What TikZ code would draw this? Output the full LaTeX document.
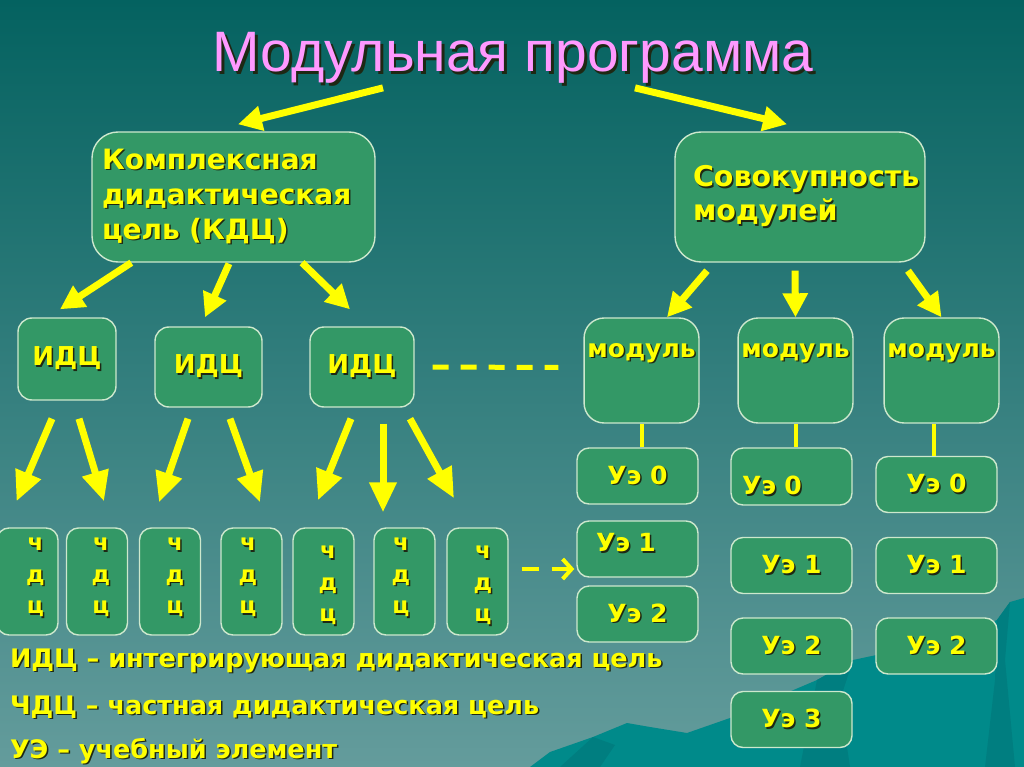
\documentclass[tikz,border=0pt]{standalone}
\usepackage{fontspec}
\setmainfont{DejaVu Sans}
\newfontfamily\titlefont{Liberation Sans}
\usetikzlibrary{arrows.meta,calc}

\definecolor{bgtop}{RGB}{4,98,96}
\definecolor{bgbot}{RGB}{100,156,156}
\definecolor{hill}{RGB}{0,138,138}
\definecolor{hilldark}{RGB}{0,126,128}
\definecolor{boxfill}{RGB}{51,152,102}
\definecolor{boxline}{RGB}{205,232,205}
\definecolor{ylw}{RGB}{255,255,0}
\definecolor{pinktitle}{RGB}{255,153,255}
\definecolor{shadow}{RGB}{30,40,20}

% text with a dark drop shadow
\newcommand\sh[2][1.5pt]{\mbox{\rlap{\kern#1\raisebox{-#1}{\textcolor{shadow}{#2}}}#2}}

\begin{document}
\begin{tikzpicture}[x=1pt,y=-1pt,
        every node/.style={text=ylw},
        box/.style={draw=boxline,line width=1.4pt,fill=boxfill,rounded corners=#1},
        box/.default=12pt,
        idcbox/.style={box=14pt,font=\bfseries\fontsize{26}{32}\selectfont},
        modbox/.style={box=20pt,minimum width=113pt,inner ysep=0pt,text height=39pt,text depth=66pt,
            font=\bfseries\fontsize{25}{30}\selectfont},
        uebox/.style={box=12pt,minimum width=121pt,minimum height=56pt,font=\bfseries\fontsize{25}{30}\selectfont},
        cbox/.style={box=12pt,minimum width=61pt,minimum height=107pt},
        cletters/.style={align=center,font=\bfseries\fontsize{23}{31.5}\selectfont},
        legend/.style={anchor=base west,font=\bfseries\fontsize{25.5}{30}\selectfont},
        fatarrow/.style={draw=ylw,line width=7pt,-{Triangle[length=24pt,width=24pt]}},
        tallarrow/.style={draw=ylw,line width=7pt,-{Triangle[length=30pt,width=26pt]}}]

    \useasboundingbox (0,0) rectangle (1024,767);
    \shade[top color=bgtop,bottom color=bgbot] (0,0) rectangle (1024,767);
    % hills
    \fill[hill] (530,767) -- (550,752) -- (593,737) -- (627,723) -- (650,727) -- (687,733) -- (730,718)
        -- (770,700) -- (817,680) -- (853,660) -- (867,657) -- (910,648) -- (960,635) -- (997,620)
        -- (1010,602) -- (1024,598) -- (1024,767) -- cycle;
    \fill[hilldark] (560,767) -- (593,737) -- (615,745) -- (600,767) -- cycle;
    \fill[hilldark] (817,680) -- (853,660) -- (840,700) -- (850,767) -- (800,767) -- cycle;
    \fill[hilldark] (997,620) -- (1010,602) -- (1005,660) -- (1015,767) -- (985,767) -- (995,680) -- cycle;

    \node[anchor=base,text=pinktitle,font=\titlefont\fontsize{57}{60}\selectfont] (title) at (513,72)
        {\sh[2.5pt]{Модульная программа}};

    \node[box=26pt,minimum height=130pt,text width=263pt,inner xsep=10pt,align=left,
        font=\bfseries\fontsize{28}{35}\selectfont] (kdc) at (233.5,197)
        {\sh{Комплексная}\\\sh{дидактическая}\\\sh{цель (КДЦ)}};
    \node[box=26pt,minimum height=130pt,text width=214pt,inner xsep=18pt,align=left,
        font=\bfseries\fontsize{28.5}{34}\selectfont] (sov) at (800,197)
        {\sh{Совокупность}\\\sh{модулей}};

    \node[idcbox,minimum width=98pt,minimum height=82pt] (i1) at (67,359) {\sh{ИДЦ}};
    \node[idcbox,minimum width=107pt,minimum height=80pt] (i2) at (208.5,367) {\sh{ИДЦ}};
    \node[idcbox,minimum width=104pt,minimum height=80pt] (i3) at (362,367) {\sh{ИДЦ}};

    \node[modbox] (m1) at (641.5,370.5) {\sh{модуль}};
    \node[modbox] (m2) at (795.5,370.5) {\sh{модуль}};
    \node[modbox] (m3) at (941.5,370.5) {\sh{модуль}};

    \node[uebox] (u10) at (637.5,476) {\sh{Уэ 0}};
    \node[uebox,inner xsep=19pt,text width=83pt,align=left,inner ysep=0pt,text height=30.5pt,text depth=25.5pt]
        (u11) at (637.5,549) {\sh{Уэ 1}};
    \node[uebox] (u12) at (637.5,614) {\sh{Уэ 2}};
    \node[uebox,inner xsep=11pt,text width=99pt,align=left,inner ysep=0pt,text height=46.5pt,text depth=10.5pt]
        (u20) at (791.5,476.5) {\sh{Уэ 0}};
    \node[uebox] (u21) at (791.5,565.5) {\sh{Уэ 1}};
    \node[uebox] (u22) at (791.5,646) {\sh{Уэ 2}};
    \node[uebox] (u23) at (791.5,719.5) {\sh{Уэ 3}};
    \node[uebox] (u30) at (936.5,484.5) {\sh{Уэ 0}};
    \node[uebox] (u31) at (936.5,565.5) {\sh{Уэ 1}};
    \node[uebox] (u32) at (936.5,646) {\sh{Уэ 2}};

    \foreach \n/\x/\dx/\dy in {1/27.5/8/-3,2/97/4/-3,3/170/5/-3,4/251.5/-3.5/-3,
                               5/323.5/4.5/5,6/404.5/-3.5/-3,7/477.5/5.5/5} {
        \node[cbox] (c\n) at (\x,581.5) {};
        \node[cletters] (c\n t) at ($(c\n)+(\dx,\dy)$) {\sh{ч}\\\sh{д}\\\sh{ц}};
    }

    \node[legend] (leg1) at (6.5,667) {\sh{ИДЦ – интегрирующая дидактическая цель}};
    \node[legend] (leg2) at (6.5,714) {\sh{ЧДЦ – частная дидактическая цель}};
    \node[legend] (leg3) at (6.5,758) {\sh{УЭ – учебный элемент}};

    \draw[fatarrow] ($(title.south)+(-130,-2)$) -- ($(kdc.north)+(4.5,-7)$);
    \draw[fatarrow] ($(title.south)+(122,-2)$) -- ($(sov.north)+(-13,-7)$);

    \draw[fatarrow] ($(kdc.south west)+(40,0)$) -- ($(i1.north)+(-7,-8)$);
    \draw[fatarrow] ($(kdc.south)+(-4.5,1)$) -- ($(i2.north)+(-3.5,-9)$);
    \draw[fatarrow] ($(kdc.south)+(68.5,0)$) -- ($(i3.north)+(-12,-17)$);

    \draw[fatarrow] ($(sov.south)+(-93,8)$) -- ($(m1.north)+(25.5,0)$);
    \draw[fatarrow] ($(sov.south)+(-5,8)$) -- (m2.north);
    \draw[fatarrow] ($(sov.south)+(108,8)$) -- (m3.north);

    \draw[tallarrow] ($(i1.south)+(-15,18)$) -- ($(c1.north)+(-11,-26)$);
    \draw[tallarrow] ($(i1.south)+(12,18)$) -- ($(c2.north)+(7,-26)$);
    \draw[tallarrow] ($(i2.south)+(-20.5,11)$) -- ($(c3.north)+(-11,-25)$);
    \draw[tallarrow] ($(i2.south)+(21.5,11)$) -- ($(c4.north)+(8.5,-25)$);
    \draw[tallarrow] ($(i3.south)+(-11,11)$) -- ($(c5.north)+(-5.5,-27)$);
    \draw[tallarrow] ($(i3.south)+(21,16)$) -- ($(c6.north)+(-21.5,-15)$);
    \draw[tallarrow] ($(i3.south)+(48,11)$) -- ($(c7.north)+(-23.5,-29)$);

    \draw[ylw,line width=5pt,dash pattern=on 16pt off 12pt] ($(i3.east)+(18,0)$) -- ($(m1.west)+(-25,-3)$);
    \draw[ylw,line width=4pt,dash pattern=on 17pt off 13pt,-{Straight Barb[length=9pt,width=20pt]}]
        ($(c7.east)+(13,-12.5)$) -- ($(u11.west)+(-2,20)$);

    \coordinate (m3foot) at ($(m3.south)+(-8,0)$);
    \draw[ylw,line width=4pt] (m1.south) -- (m1.south |- u10.north);
    \draw[ylw,line width=4pt] (m2.south) -- (m2.south |- u20.north);
    \draw[ylw,line width=4pt] (m3foot) -- (m3foot |- u30.north);
\end{tikzpicture}
\end{document}
